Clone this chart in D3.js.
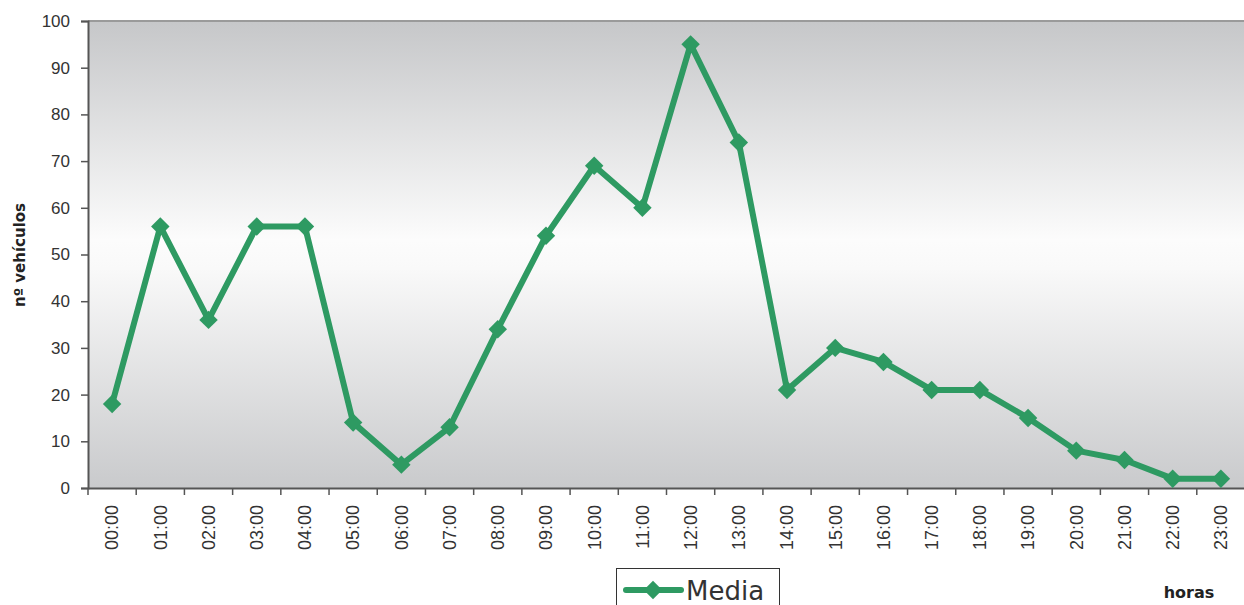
<!DOCTYPE html>
<html>
<head>
<meta charset="utf-8">
<script src="https://cdn.jsdelivr.net/npm/d3@7"></script>
<style>
  body { margin: 0; background: #fff; }
  svg { display: block; font-family: "DejaVu Sans", "Liberation Sans", sans-serif; }
</style>
</head>
<body>
<svg id="chart" width="1244" height="605"></svg>
<script>
var horas = ["00:00","01:00","02:00","03:00","04:00","05:00","06:00","07:00","08:00","09:00","10:00","11:00",
             "12:00","13:00","14:00","15:00","16:00","17:00","18:00","19:00","20:00","21:00","22:00","23:00"];
var media = [18, 56, 36, 56, 56, 14, 5, 13, 34, 54, 69, 60, 95, 74, 21, 30, 27, 21, 21, 15, 8, 6, 2, 2];
var yTicks = [0, 10, 20, 30, 40, 50, 60, 70, 80, 90, 100];

var svg = d3.select("#chart");
var plotLeft = 88, plotRight = 1245, plotTop = 21, plotBottom = 488;
var green = "#2e9a62";

/** gradient for plot background **/
var grad = svg.append("defs").append("linearGradient")
    .attr("id", "bg").attr("x1", 0).attr("y1", 0).attr("x2", 0).attr("y2", 1);
grad.append("stop").attr("offset", "0%").attr("stop-color", "#c6c7c9");
grad.append("stop").attr("offset", "47%").attr("stop-color", "#fcfcfc");
grad.append("stop").attr("offset", "53%").attr("stop-color", "#f9f9f9");
grad.append("stop").attr("offset", "100%").attr("stop-color", "#c9cacc");

var x = d3.scaleBand().domain(horas).range([plotLeft, plotRight]);
var y = d3.scaleLinear().domain([0, 100]).range([plotBottom, plotTop]);

svg.append("rect")
    .attr("x", plotLeft).attr("y", plotTop)
    .attr("width", plotRight - plotLeft).attr("height", plotBottom - plotTop)
    .attr("fill", "url(#bg)");
svg.append("line")
    .attr("x1", plotLeft).attr("x2", plotRight).attr("y1", plotTop).attr("y2", plotTop)
    .attr("stroke", "#9a9a9a").attr("stroke-width", 2);

/** Y axis **/
var yAxis = svg.append("g")
    .attr("transform", "translate(" + plotLeft + ",0)")
    .call(d3.axisLeft(y).tickValues(yTicks).tickSize(7).tickPadding(11));
yAxis.select(".domain").attr("stroke", "#555").attr("stroke-width", 2);
yAxis.selectAll(".tick line").attr("stroke", "#555").attr("stroke-width", 1.5);
yAxis.selectAll("text").style("font-size", "17px").attr("fill", "#333");

/** X axis with ticks on band boundaries **/
var xAxis = svg.append("g")
    .attr("transform", "translate(0," + plotBottom + ")")
    .call(d3.axisBottom(x).tickSize(0).tickPadding(0));
xAxis.select(".domain").attr("stroke", "#555").attr("stroke-width", 2);
xAxis.selectAll(".tick text")
    .style("font-size", "18px").attr("fill", "#333")
    .attr("text-anchor", "end")
    .attr("y", 0)
    .attr("dy", "0.35em")
    .attr("transform", "translate(0,17) rotate(-90)");
xAxis.selectAll(".bound")
    .data(horas)
    .enter().append("line")
    .attr("x1", function (d) { return x(d); })
    .attr("x2", function (d) { return x(d); })
    .attr("y1", 0).attr("y2", 7)
    .attr("stroke", "#555").attr("stroke-width", 1.5);

/** Line and markers **/
var cx = function (d, i) { return x(horas[i]) + x.bandwidth() / 2; };
var line = d3.line().x(cx).y(function (d) { return y(d); });

svg.append("path")
    .datum(media)
    .attr("d", line)
    .attr("fill", "none")
    .attr("stroke", green)
    .attr("stroke-width", 6)
    .attr("stroke-linejoin", "round");

var diamond = d3.symbol().type(d3.symbolSquare).size(170);
svg.selectAll(".pt")
    .data(media)
    .enter().append("path")
    .attr("d", diamond)
    .attr("fill", green)
    .attr("transform", function (d, i) {
        return "translate(" + cx(d, i) + "," + y(d) + ") rotate(45)";
    });

/** Axis titles **/
svg.append("text")
    .text("nº vehículos")
    .attr("transform", "translate(25,255) rotate(-90)")
    .attr("text-anchor", "middle")
    .style("font-size", "15px").style("font-weight", 700).attr("fill", "#222");
svg.append("text")
    .text("horas")
    .attr("x", 1189).attr("y", 598)
    .attr("text-anchor", "middle")
    .style("font-size", "16px").style("font-weight", 700).attr("fill", "#222");

/** Legend **/
var leg = svg.append("g");
leg.append("rect")
    .attr("x", 616.5).attr("y", 568.5).attr("width", 163).attr("height", 45)
    .attr("fill", "#fff").attr("stroke", "#333").attr("stroke-width", 1);
leg.append("line")
    .attr("x1", 626).attr("x2", 681).attr("y1", 590).attr("y2", 590)
    .attr("stroke", green).attr("stroke-width", 6).attr("stroke-linecap", "round");
leg.append("path")
    .attr("d", diamond)
    .attr("fill", green)
    .attr("transform", "translate(653,590) rotate(45)");
leg.append("text")
    .text("Media")
    .attr("x", 686).attr("y", 600)
    .style("font-size", "26px").attr("fill", "#333");
</script>
</body>
</html>
